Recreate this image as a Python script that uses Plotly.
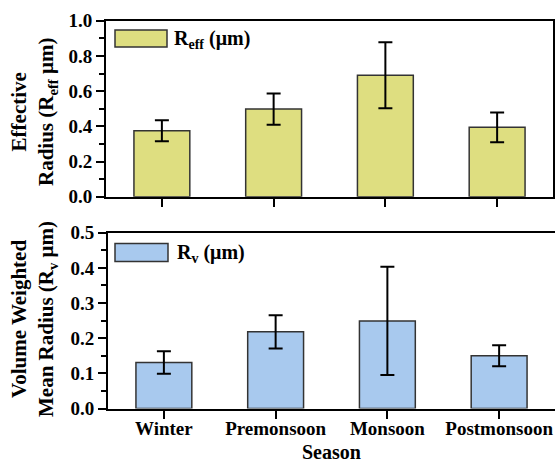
import plotly.graph_objects as go

# Seasonal particle size statistics
seasons = ["Winter", "Premonsoon", "Monsoon", "Postmonsoon"]
reff_mean = [0.375, 0.498, 0.690, 0.394]
reff_err = [0.060, 0.089, 0.188, 0.084]
rv_mean = [0.131, 0.218, 0.249, 0.150]
rv_err = [0.032, 0.047, 0.154, 0.030]

W, H = 555, 462
FONT = "Times New Roman, Liberation Serif, serif"
YELLOW = "#DEDE80"
BLUE = "#A8C9EE"
EDGE = "#333333"


def px_x(p):
    return p / W


def px_y(p):
    return 1 - p / H


fig = go.Figure()

fig.add_trace(go.Bar(
    x=seasons, y=reff_mean, width=0.5,
    marker=dict(color=YELLOW, line=dict(color=EDGE, width=1.5)),
    error_y=dict(type="data", array=reff_err, color="black", thickness=2, width=7),
    xaxis="x", yaxis="y", showlegend=False,
))
fig.add_trace(go.Bar(
    x=seasons, y=rv_mean, width=0.5,
    marker=dict(color=BLUE, line=dict(color=EDGE, width=1.5)),
    error_y=dict(type="data", array=rv_err, color="black", thickness=2, width=7),
    xaxis="x2", yaxis="y2", showlegend=False,
))

tickfont = dict(family=FONT, size=19, color="black", weight="bold")
common_x = dict(
    showline=True, linecolor="black", linewidth=2, mirror=True,
    ticks="outside", ticklen=8, tickwidth=1.5, tickcolor="black",
    showgrid=False, zeroline=False, automargin=False, range=[-0.5, 3.5],
    tickfont=tickfont,
)
common_y = dict(
    showline=True, linecolor="black", linewidth=2, mirror=True,
    ticks="outside", ticklen=8, tickwidth=1.5, tickcolor="black",
    showgrid=False, zeroline=False, automargin=False, tickformat=".1f",
    tickfont=tickfont,
)

fig.update_layout(
    width=W, height=H,
    margin=dict(l=0, r=0, t=0, b=0),
    paper_bgcolor="white", plot_bgcolor="white",
    font=dict(family=FONT),
    bargap=0.5,
    xaxis=dict(**common_x, domain=[px_x(106), px_x(553)], anchor="y",
               showticklabels=False),
    yaxis=dict(**common_y, domain=[px_y(196.7), px_y(20.7)], anchor="x",
               range=[0, 1.0], dtick=0.2,
               minor=dict(dtick=0.1, ticks="outside", ticklen=5,
                          tickwidth=1.5, tickcolor="black", showgrid=False)),
    xaxis2=dict(**common_x, domain=[px_x(108), px_x(555)], anchor="y2",
                ticklabelstandoff=-6),
    yaxis2=dict(**common_y, domain=[px_y(408.5), px_y(232.7)], anchor="x2",
                range=[0, 0.5], dtick=0.1,
                minor=dict(dtick=0.05, ticks="outside", ticklen=5,
                           tickwidth=1.5, tickcolor="black", showgrid=False)),
)

title_font = dict(family=FONT, size=20, color="black", weight="bold")
ytitle_font = dict(family=FONT, size=21, color="black", weight="bold")

# Legend swatches and labels
fig.add_shape(type="rect", xref="paper", yref="paper",
              x0=px_x(115), x1=px_x(167), y0=px_y(47), y1=px_y(30),
              fillcolor=YELLOW, line=dict(color=EDGE, width=1.5))
fig.add_shape(type="rect", xref="paper", yref="paper",
              x0=px_x(115), x1=px_x(168), y0=px_y(261.5), y1=px_y(243.5),
              fillcolor=BLUE, line=dict(color=EDGE, width=1.5))

annotations = [
    dict(text="R<sub>eff</sub> (μm)", x=px_x(172), y=px_y(40),
         xanchor="left", yanchor="middle", font=title_font),
    dict(text="R<sub>v</sub> (μm)", x=px_x(175), y=px_y(253),
         xanchor="left", yanchor="middle", font=title_font),
    dict(text="Effective<br>Radius (R<sub>eff</sub> μm)", x=px_x(34), y=px_y(112),
         xanchor="center", yanchor="middle", textangle=-90, font=ytitle_font),
    dict(text="Volume Weighted<br>Mean Radius (R<sub>v</sub> μm)", x=px_x(34),
         y=px_y(319), xanchor="center", yanchor="middle", textangle=-90,
         font=ytitle_font),
    dict(text="Season", x=px_x(331.5), y=px_y(452),
         xanchor="center", yanchor="middle", font=title_font),
]
for a in annotations:
    fig.add_annotation(xref="paper", yref="paper", showarrow=False, **a)

fig.write_html("out.html")
